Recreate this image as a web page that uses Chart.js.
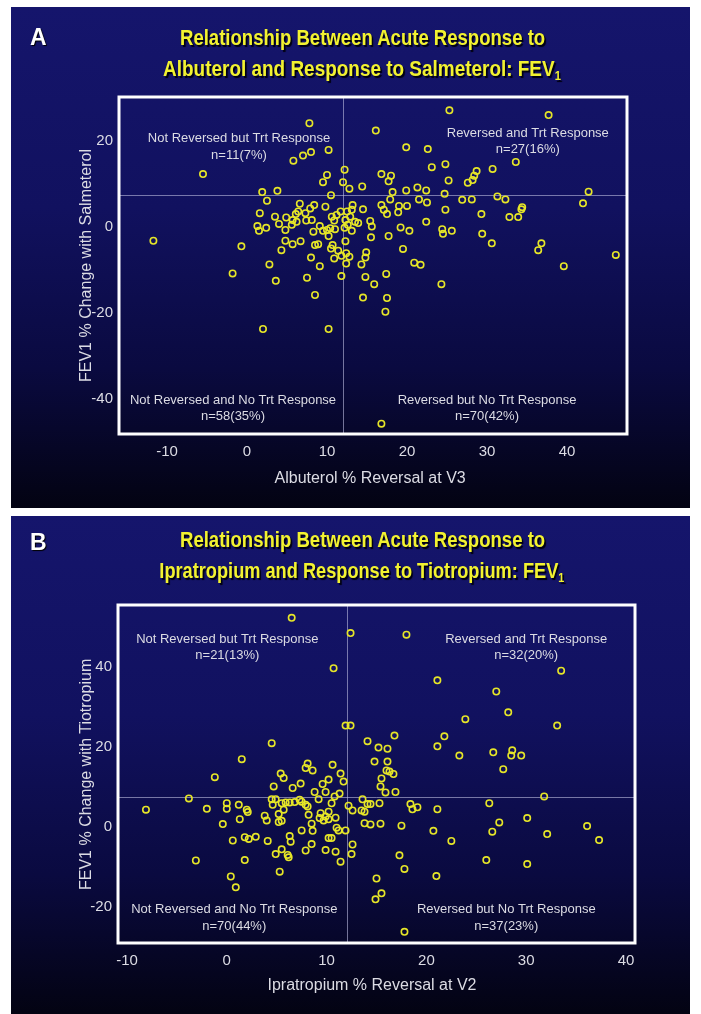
<!DOCTYPE html>
<html>
<head>
<meta charset="utf-8">
<script src="https://cdn.jsdelivr.net/npm/chart.js@4.4.1/dist/chart.umd.min.js"></script>
<style>
  html, body { margin:0; padding:0; background:#ffffff; }
  body { width:701px; height:1014px; position:relative; overflow:hidden; font-family:"Liberation Sans", Arial, sans-serif; }
  .panel { position:absolute; overflow:hidden;
    background: linear-gradient(to bottom, #15156c 0%, #11115f 40%, #0a0a40 72%, #030312 100%); }
  .panel canvas { position:absolute; left:0; top:0; }
  .letter { position:absolute; color:#ffffff; font-weight:bold; font-size:23px; text-shadow:1px 1px 1px #000; }
  .tline { position:absolute; white-space:nowrap; color:#f2f230; font-weight:bold; font-size:22px;
    text-shadow: 2px 2px 1px #000010; transform-origin: 50% 50%; line-height:1; }
  .tline sub { font-size:13px; vertical-align:-4px; }
  .axt { position:absolute; white-space:nowrap; color:#dcdce4; font-size:16px; line-height:1; }
  .axt.v { transform-origin: 0 0; }
</style>
</head>
<body>
<div id="pA" class="panel" style="left:11px; top:7px; width:679px; height:501px;"><canvas id="cA" width="679" height="501"></canvas></div>
<div id="pB" class="panel" style="left:11px; top:516px; width:679px; height:498px;"><canvas id="cB" width="679" height="498"></canvas></div>

<div class="letter" style="left:30px; top:24px;">A</div>
<div class="letter" style="left:30px; top:529px;">B</div>

<div class="tline" data-cx="362" data-cy="38" data-w="365">Relationship Between Acute Response to</div>
<div class="tline" data-cx="362" data-cy="70" data-w="398">Albuterol and Response to Salmeterol: FEV<sub>1</sub></div>
<div class="tline" data-cx="362" data-cy="540" data-w="365">Relationship Between Acute Response to</div>
<div class="tline" data-cx="362" data-cy="572" data-w="405">Ipratropium and Response to Tiotropium: FEV<sub>1</sub></div>

<div class="axt" data-cx="370" data-cy="478">Albuterol % Reversal at V3</div>
<div class="axt v" data-cx="86" data-cy="265">FEV1 % Change with Salmeterol</div>
<div class="axt" data-cx="372" data-cy="985">Ipratropium % Reversal at V2</div>
<div class="axt v" data-cx="86" data-cy="774">FEV1 % Change with Tiotropium</div>

<script>
// ---------------- DATA ----------------
// Panel A: Albuterol % reversal (x) vs FEV1 % change with Salmeterol (y)
const albuterolReversal = [
  7.8,-5.5,-11.7,
  5.8,7.0,8.0,10.2,
  12.2,10.0,9.5,12.0,12.8,14.4,16.8,18.0,17.7,19.9,18.2,17.9,10.5,1.9,3.8,2.5,
  6.6,8.4,7.9,6.4,6.1,7.3,9.8,11.7,12.5,13.2,13.1,14.5,16.8,17.1,17.5,19.0,20.0,18.9,
  1.6,3.5,4.9,5.7,5.6,6.2,7.4,8.1,10.6,11.2,10.9,12.3,12.9,13.5,13.9,12.6,12.2,15.4,15.6,19.2,20.3,
  1.3,1.5,2.4,4.0,4.8,9.1,8.3,9.5,10.0,10.4,10.2,11.0,13.1,17.7,15.5,
  -0.7,4.8,5.7,6.7,8.5,8.9,12.3,10.5,10.7,11.4,11.8,12.4,12.8,10.9,4.3,8.0,14.9,14.8,19.5,
  2.8,9.1,12.4,14.3,-1.8,3.6,7.5,11.8,14.8,17.4,15.9,8.5,14.5,17.5,
  2.0,10.2,17.3,20.9,21.7,24.3,39.6,16.8,
  25.3,37.7,16.1,19.9,22.6,33.6,30.7,24.8,23.1,28.7,28.4,28.2,27.6,25.2,22.4,21.3,24.7,22.5,21.5,26.9,28.1,31.3,32.3,29.3,34.4,34.3,33.9,32.8,42.0,22.4,24.4,24.5,25.6,29.4,30.6,36.8,36.4,42.7,24.8,
  46.1
];
const salmeterolChange = [
  24.1,12.3,-3.2,
  15.4,16.6,17.4,17.9,
  13.3,12.1,10.4,10.4,8.9,9.4,12.3,11.9,10.6,8.5,8.1,6.4,7.4,8.1,8.4,6.1,
  5.4,5.1,4.3,3.6,3.0,3.2,4.7,3.6,3.6,5.1,4.0,4.1,5.1,4.0,3.0,4.9,4.9,3.4,
  3.2,2.4,2.2,1.6,0.5,1.2,1.5,1.6,2.4,2.8,1.5,1.6,2.4,1.2,0.9,0.5,-0.2,1.4,0.1,-0.1,-0.9,
  0.2,-0.9,-0.2,0.7,-0.7,0.2,-1.1,-0.9,-0.7,-0.3,-2.1,-0.5,-0.9,-2.1,-2.4,
  -4.5,-3.2,-4.0,-3.3,-4.2,-4.0,-3.3,-5.0,-4.2,-5.5,-6.7,-6.1,-6.9,-7.3,-5.4,-7.1,-5.9,-7.1,-5.1,
  -8.7,-9.1,-8.5,-8.7,-10.8,-12.5,-11.8,-11.4,-11.6,-10.9,-13.3,-15.8,-16.4,-16.5,
  -23.7,-23.7,-19.7,-8.3,-8.8,-13.3,-9.1,-45.7,
  27.1,26.0,22.4,18.5,18.1,15.1,13.5,14.6,13.9,13.0,11.9,10.9,10.3,10.8,8.5,9.2,7.7,5.7,6.4,6.3,6.4,7.1,6.4,3.0,4.6,4.1,2.3,2.3,5.5,1.2,-0.5,-1.6,-0.9,-1.6,-3.8,-3.8,-5.4,8.2,4.0,
  -6.5
];
// Panel B: Ipratropium % reversal (x) vs FEV1 % change with Tiotropium (y)
const ipratropiumReversal = [
  6.5,10.7,12.4,11.9,12.4,4.5,
  18.0,33.5,21.1,27.0,28.2,23.9,33.1,16.8,14.1,21.8,21.1,15.2,16.1,23.3,26.7,28.6,28.5,29.5,
  14.8,16.1,16.0,16.3,16.7,15.5,15.4,15.9,16.9,11.7,11.4,27.7,31.8,26.3,30.1,27.3,26.6,32.1,36.1,37.3,26.0,30.1,21.1,20.7,22.5,21.0,17.8,17.3,17.5,18.4,18.6,19.1,15.3,13.6,14.1,14.4,13.5,13.8,12.2,12.6,13.8,14.4,15.4,11.9,12.6,12.5,11.4,15.0,15.5,14.9,17.8,11.3,
  1.5,-1.2,-3.8,-8.1,-2.0,0.0,0.0,1.2,2.0,2.1,1.3,-0.4,0.6,1.8,2.2,2.9,-3.1,1.8,0.4,0.9,
  8.1,7.9,8.6,10.6,5.4,5.7,4.7,6.6,7.4,9.6,10.2,8.8,9.9,10.8,10.5,9.2,4.5,4.9,4.6,5.5,5.9,6.3,6.8,7.3,7.5,7.9,8.1,5.7,5.2,5.5,5.2,3.8,4.0,8.2,9.4,9.9,10.2,9.3,9.7,10.2,10.9,8.5,8.6,7.5,11.0,11.2,6.3,6.4,4.1,10.2,10.5,5.5,4.9,6.1,6.2,7.9,8.5,9.9,10.9,5.3
];
const tiotropiumChange = [
  52.2,39.6,48.4,25.3,25.3,20.9,
  48.0,39.0,36.6,33.8,28.6,26.9,25.3,22.8,21.4,22.6,20.1,19.8,19.5,17.8,18.6,19.1,17.8,17.8,
  16.3,16.3,14.1,13.8,13.2,12.1,10.1,8.6,8.7,11.3,13.3,14.4,7.6,5.9,2.2,1.1,-1.2,-1.8,0.2,-3.3,-8.3,-9.3,4.4,-1.0,-3.5,-12.3,-10.5,-7.1,0.3,5.7,4.4,4.9,5.9,6.9,5.7,5.7,4.1,3.8,5.3,4.1,0.9,0.6,0.8,-0.9,-4.4,-6.8,-8.7,-12.9,-16.6,-18.1,-26.2,8.3,
  16.9,12.4,7.1,4.3,4.5,5.9,4.5,5.5,4.3,3.7,1.9,0.7,-3.4,-2.6,-3.0,-2.5,-8.4,-8.3,-12.4,-15.1,
  15.8,14.7,14.1,15.5,13.3,12.2,10.1,9.7,10.8,10.7,11.8,8.7,8.7,7.6,5.9,6.9,6.9,6.9,5.5,5.9,6.1,6.1,6.2,6.8,6.3,5.5,5.1,4.3,3.2,1.5,1.2,2.8,1.6,3.0,3.4,2.6,3.8,2.2,1.6,1.9,2.3,0.8,-1.0,-0.9,-0.2,-0.9,-2.3,-3.7,-3.5,-2.8,-2.8,-5.6,-6.8,-7.0,-7.6,-5.9,-4.3,-5.8,-6.2,-11.2
];

// Axis ranges and tick labels
const xRangeA = [-16, 47.5], yRangeA = [-48.1, 30.2];
const xRangeB = [-10.9, 40.9], yRangeB = [-29, 55.4];
const xTicksA = [-10, 0, 10, 20, 30, 40];
const yTicksA = [-40, -20, 0, 20];
const xTicksB = [-10, 0, 10, 20, 30, 40];
const yTicksB = [-20, 0, 20, 40];
// Cut-points for the quadrants (x = reversal, y = treatment response)
const cutA = [12, 7.5];
const cutB = [12, 7.5];

// Quadrant labels: [x, y, line1, line2]
const quadLabelsA = [
  [-1.0, 20.5, "Not Reversed but Trt Response", "n=11(7%)"],
  [35.1, 21.8, "Reversed and Trt Response", "n=27(16%)"],
  [-1.75, -40.2, "Not Reversed and No Trt Response", "n=58(35%)"],
  [30.0, -40.2, "Reversed but No Trt Response", "n=70(42%)"]
];
const quadLabelsB = [
  [0.05, 46.9, "Not Reversed but Trt Response", "n=21(13%)"],
  [30.0, 46.9, "Reversed and Trt Response", "n=32(20%)"],
  [0.75, -20.65, "Not Reversed and No Trt Response", "n=70(44%)"],
  [28.0, -20.65, "Reversed but No Trt Response", "n=37(23%)"]
];

// ---------------- RENDERING ----------------
const TEXT = '#dcdce4';
const FONT = '"Liberation Sans", Arial, sans-serif';

const panelPlugin = {
  id: 'panelDecor',
  beforeDatasetsDraw(chart, args, opts) {
    const {ctx, chartArea: a, scales: {x, y}} = chart;
    ctx.save();
    ctx.strokeStyle = 'rgba(190,190,225,0.6)';
    ctx.lineWidth = 1;
    const px = Math.round(x.getPixelForValue(opts.cut[0])) + 0.5;
    const py = Math.round(y.getPixelForValue(opts.cut[1])) + 0.5;
    ctx.beginPath();
    ctx.moveTo(px, a.top); ctx.lineTo(px, a.bottom);
    ctx.moveTo(a.left, py); ctx.lineTo(a.right, py);
    ctx.stroke();
    ctx.restore();
  },
  afterDatasetsDraw(chart, args, opts) {
    const {ctx, chartArea: a, scales: {x, y}} = chart;
    ctx.save();
    ctx.fillStyle = TEXT;
    ctx.font = '13px ' + FONT;
    ctx.textAlign = 'center';
    ctx.textBaseline = 'middle';
    opts.labels.forEach(l => {
      const cx = x.getPixelForValue(l[0]);
      const cy = y.getPixelForValue(l[1]);
      ctx.fillText(l[2], cx, cy);
      ctx.fillText(l[3], cx, cy + 16.5);
    });
    ctx.strokeStyle = '#ffffff';
    ctx.lineWidth = 3;
    ctx.strokeRect(a.left, a.top, a.right - a.left, a.bottom - a.top);
    ctx.restore();
  }
};

function makeChart(id, xs, ys, xr, yr, xt, yt, cut, labels, pad) {
  const pts = xs.map((v, i) => ({x: v, y: ys[i]}));
  return new Chart(document.getElementById(id), {
    type: 'scatter',
    data: { datasets: [{
      data: pts,
      pointStyle: 'circle',
      pointRadius: 3.2,
      pointBorderWidth: 1.6,
      borderColor: '#e6e628',
      backgroundColor: 'rgba(0,0,0,0)',
      pointHoverRadius: 3.2
    }]},
    options: {
      responsive: false,
      animation: false,
      events: [],
      layout: { padding: pad },
      plugins: {
        legend: { display: false },
        tooltip: { enabled: false },
        panelDecor: { cut: cut, labels: labels }
      },
      scales: {
        x: {
          type: 'linear', min: xr[0], max: xr[1],
          grid: { display: false, drawTicks: false },
          border: { display: false },
          afterBuildTicks: s => { s.ticks = xt.map(v => ({value: v})); },
          afterFit: s => { s.height = 40; },
          ticks: { color: TEXT, font: { family: FONT, size: 15 }, padding: 9, maxRotation: 0, autoSkip: false }
        },
        y: {
          type: 'linear', min: yr[0], max: yr[1],
          grid: { display: false, drawTicks: false },
          border: { display: false },
          afterBuildTicks: s => { s.ticks = yt.map(v => ({value: v})); },
          afterFit: s => { s.width = 50; },
          ticks: { color: TEXT, font: { family: FONT, size: 15 }, padding: 6, autoSkip: false }
        }
      }
    },
    plugins: [panelPlugin]
  });
}

// Panel A canvas at page (11,7): plot box 119..627 x 97..434
makeChart('cA', albuterolReversal, salmeterolChange, xRangeA, yRangeA, xTicksA, yTicksA, cutA, quadLabelsA,
  { left: 58, right: 63, top: 90, bottom: 34 });
// Panel B canvas at page (11,516): plot box 118..635 x 605..943
makeChart('cB', ipratropiumReversal, tiotropiumChange, xRangeB, yRangeB, xTicksB, yTicksB, cutB, quadLabelsB,
  { left: 57, right: 55, top: 89, bottom: 31 });

// place title lines with width fitting
document.querySelectorAll('.tline').forEach(el => {
  const w = el.offsetWidth, h = el.offsetHeight;
  const k = (+el.dataset.w) / w;
  el.style.left = (+el.dataset.cx - w / 2) + 'px';
  el.style.top = (+el.dataset.cy - h / 2) + 'px';
  el.style.transform = 'scaleX(' + k.toFixed(3) + ')';
});
document.querySelectorAll('.axt').forEach(el => {
  const w = el.offsetWidth, h = el.offsetHeight;
  if (el.classList.contains('v')) {
    el.style.left = (+el.dataset.cx - h / 2) + 'px';
    el.style.top = (+el.dataset.cy + w / 2) + 'px';
    el.style.transform = 'rotate(-90deg)';
  } else {
    el.style.left = (+el.dataset.cx - w / 2) + 'px';
    el.style.top = (+el.dataset.cy - h / 2) + 'px';
  }
});
</script>
</body>
</html>
